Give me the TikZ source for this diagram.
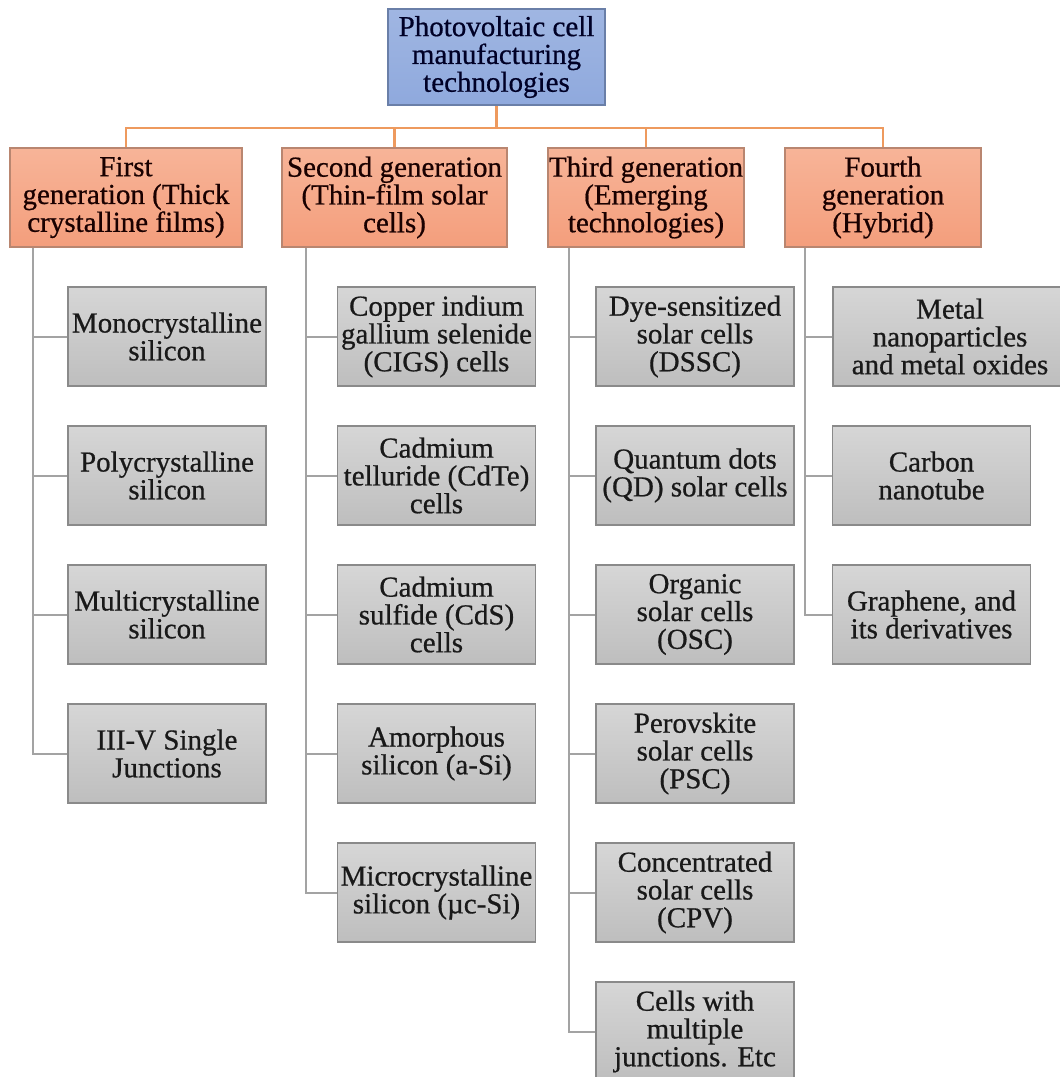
\documentclass[tikz,border=0pt]{standalone}
\usepackage{fontspec}
\setmainfont[FakeBold=0.6]{Liberation Serif}
\usetikzlibrary{calc,shadings}
\definecolor{rootfill}{HTML}{8FA9DD}
\definecolor{rootdraw}{HTML}{6A7FA8}
\definecolor{genfill}{HTML}{F7B498}
\definecolor{genfillb}{HTML}{F49E7C}
\definecolor{gendraw}{HTML}{B98670}
\definecolor{itemfill}{HTML}{D6D6D6}
\definecolor{itemfillb}{HTML}{BEBEBE}
\definecolor{itemdraw}{HTML}{8A8A8A}
\definecolor{orangeline}{HTML}{EE9A5E}
\definecolor{grayline}{HTML}{A3A3A3}
\tikzset{
  boxbase/.style={rectangle, align=center, inner sep=1pt, line width=1.4pt,
    font=\fontsize{29}{27.8}\selectfont},
  rootbox/.style={boxbase, draw=rootdraw, top color=rootfill!85!white, bottom color=rootfill,
    minimum width=217pt, minimum height=96pt, text=black!85!blue},
  genbox/.style={boxbase, draw=gendraw, top color=genfill, bottom color=genfillb,
    minimum height=99pt, text=black!80!red!50!black},
  itembox/.style={boxbase, draw=itemdraw, top color=itemfill, bottom color=itemfillb,
    minimum width=198pt, minimum height=99pt, text=black!90},
  busline/.style={draw=orangeline, line width=2.2pt},
  treeline/.style={draw=grayline, line width=2pt},
}
\begin{document}
\begin{tikzpicture}[x=1pt,y=-1pt]
\useasboundingbox (0,0) rectangle (1060,1077);
\clip (0,0) rectangle (1060,1077);
\fill[white] (0,0) rectangle (1060,1077);

\node[rootbox] (root) at (496.5,57) {Photovoltaic cell\\manufacturing\\technologies};

\node[genbox, minimum width=232pt] (g1) at (126,197.5) {First\\generation (Thick\\crystalline films)};
\node[genbox, minimum width=225pt] (g2) at (394.5,197.5) {Second generation\\(Thin-film solar\\cells)};
\node[genbox, minimum width=196pt] (g3) at (646,197.5) {Third generation\\(Emerging\\technologies)};
\node[genbox, minimum width=196pt] (g4) at (883,197.5) {Fourth\\generation\\(Hybrid)};

\coordinate (bus) at (496.5,128);
\draw[busline] (root.south) -- (bus);
\draw[busline] (bus) -| (g1.north);
\draw[busline] (bus) -| (g2.north);
\draw[busline] (bus) -| (g3.north);
\draw[busline] (bus) -| (g4.north);

% column 1
\node[itembox] (a1) at (167,336.5) {Monocrystalline\\silicon};
\node[itembox] (a2) at (167,475.5) {Polycrystalline\\silicon};
\node[itembox] (a3) at (167,614.5) {Multicrystalline\\silicon};
\node[itembox] (a4) at (167,753.5) {III-V Single\\Junctions};
% column 2
\node[itembox] (b1) at (436.5,336.5) {Copper indium\\gallium selenide\\(CIGS) cells};
\node[itembox] (b2) at (436.5,475.5) {Cadmium\\telluride (CdTe)\\cells};
\node[itembox] (b3) at (436.5,614.5) {Cadmium\\sulfide (CdS)\\cells};
\node[itembox] (b4) at (436.5,753.5) {Amorphous\\silicon (a-Si)};
\node[itembox] (b5) at (436.5,892.5) {Microcrystalline\\silicon (µc-Si)};
% column 3
\node[itembox] (c1) at (695,336.5) {Dye-sensitized\\solar cells\\(DSSC)};
\node[itembox] (c2) at (695,475.5) {Quantum dots\\(QD) solar cells};
\node[itembox] (c3) at (695,614.5) {Organic\\solar cells\\(OSC)};
\node[itembox] (c4) at (695,753.5) {Perovskite\\solar cells\\(PSC)};
\node[itembox] (c5) at (695,892.5) {Concentrated\\solar cells\\(CPV)};
\node[itembox] (c6) at (695,1031.5) {Cells with\\multiple\\junctions. Etc};
% column 4
\node[itembox, minimum width=234pt] (d1) at (950,336.5) {Metal\\nanoparticles\\and metal oxides};
\node[itembox] (d2) at (931.5,475.5) {Carbon\\nanotube};
\node[itembox] (d3) at (931.5,614.5) {Graphene, and\\its derivatives};

\coordinate (v1) at (33,248);
\coordinate (v2) at (306,248);
\coordinate (v3) at (569,248);
\coordinate (v4) at (805,248);

\foreach \n in {a1,a2,a3,a4} \draw[treeline] (v1) |- (\n.west);
\foreach \n in {b1,b2,b3,b4,b5} \draw[treeline] (v2) |- (\n.west);
\foreach \n in {c1,c2,c3,c4,c5,c6} \draw[treeline] (v3) |- (\n.west);
\foreach \n in {d1,d2,d3} \draw[treeline] (v4) |- (\n.west);
\end{tikzpicture}
\end{document}
